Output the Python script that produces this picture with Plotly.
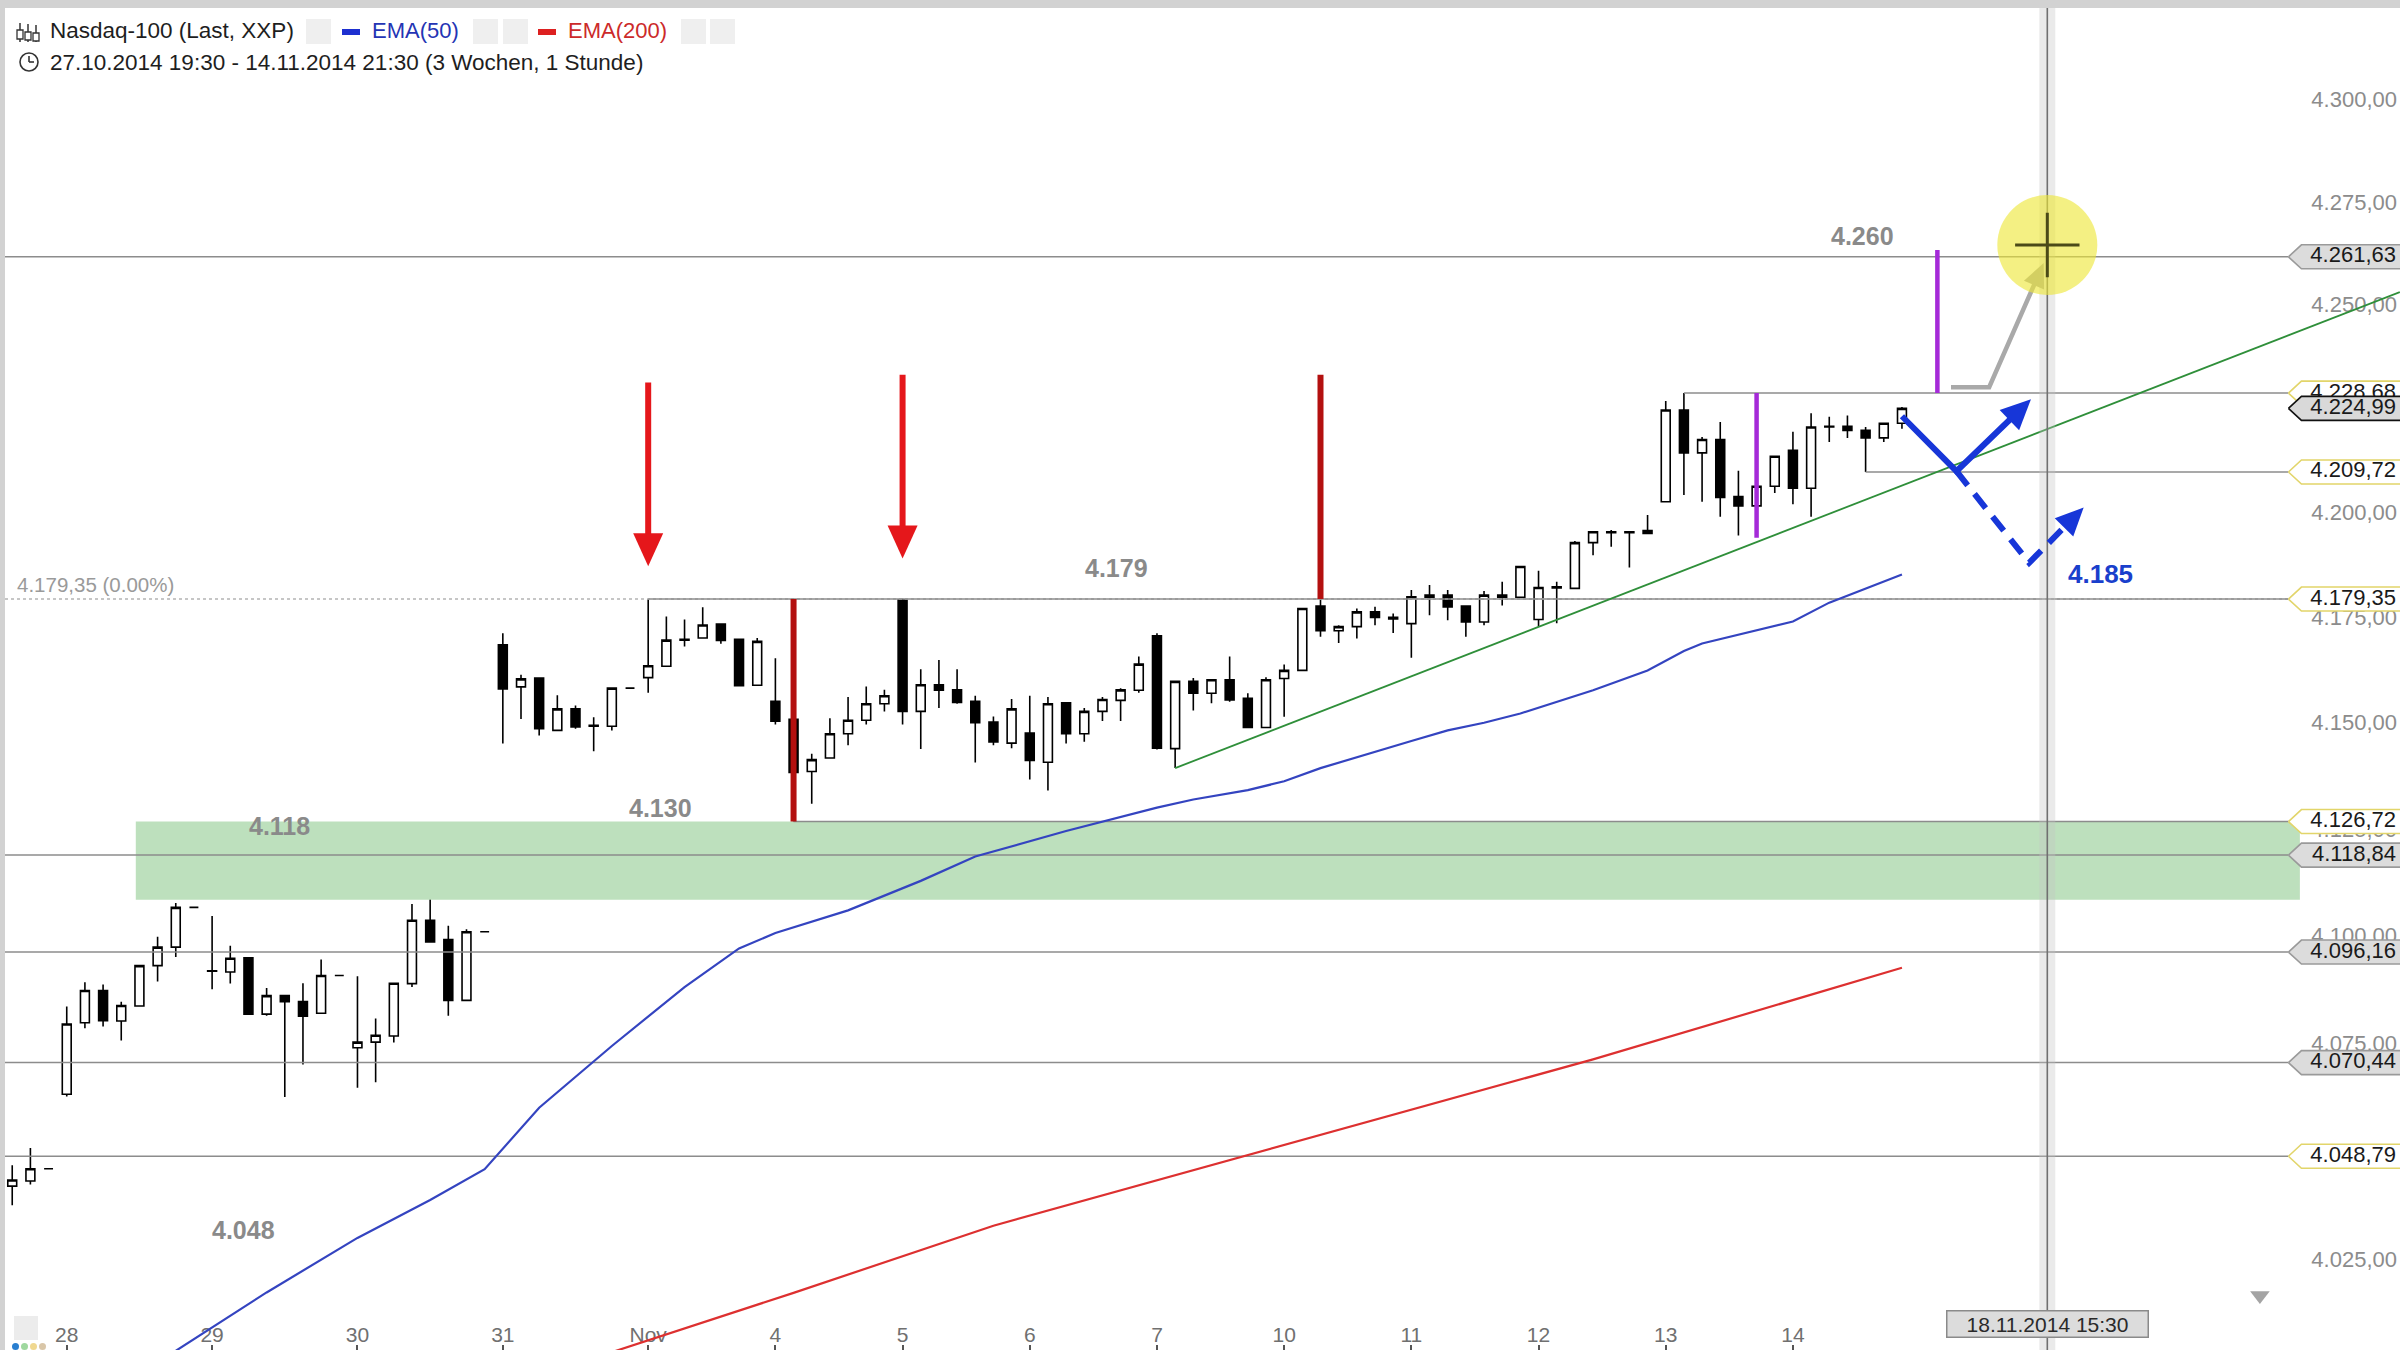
import math
import plotly.graph_objects as go

# ---------------- data ----------------
bar_open = [
    4041.9, 4043.1, 4045.9,
    4063.1, 4079.7, 4087.2, 4080.1, 4083.6, 4093.0, 4097.3, 4106.6,
    4091.7, 4091.5, 4094.8, 4081.7, 4086.0, 4084.6, 4081.9, 4090.7,
    4073.9, 4075.2, 4076.6, 4088.8, 4103.6, 4099.1, 4084.9, 4100.9,
    4168.5, 4158.5, 4160.6, 4148.2, 4153.3, 4149.4, 4149.2, 4158.2,
    4160.7, 4163.4, 4169.6, 4170.1, 4173.4, 4169.8, 4158.9,
    4155.1, 4150.8, 4138.5, 4141.7, 4147.4, 4150.6, 4154.5,
    4179.1, 4152.7, 4159.0, 4157.8, 4155.1, 4150.2, 4145.2,
    4147.6, 4140.7, 4154.7, 4147.4, 4152.7, 4155.3, 4157.7,
    4170.6, 4143.9, 4159.8, 4157.0, 4160.2, 4155.8, 4148.9,
    4160.5, 4162.4, 4177.7, 4171.8, 4172.8, 4176.3, 4175.0,
    4173.5, 4180.3, 4180.3, 4177.7, 4173.9, 4179.8, 4179.8,
    4174.5, 4182.0, 4181.9, 4192.8, 4195.4, 4195.4, 4195.7,
    4202.6, 4224.6, 4214.3, 4217.5, 4203.8, 4201.6, 4206.3,
    4214.9, 4205.8, 4220.5, 4220.7, 4219.7, 4217.9, 4221.4,
]
bar_high = [
    4046.7, 4050.7, 4045.9,
    4083.5, 4089.1, 4088.6, 4084.6, 4093.2, 4099.7, 4107.6, 4106.6,
    4104.6, 4097.6, 4095.0, 4087.8, 4086.2, 4088.9, 4094.4, 4090.7,
    4090.5, 4080.7, 4088.9, 4107.4, 4109.5, 4102.3, 4101.5, 4100.9,
    4171.2, 4161.4, 4160.8, 4156.5, 4154.1, 4151.3, 4158.2, 4158.2,
    4179.35, 4175.2, 4174.5, 4177.4, 4173.6, 4169.8, 4170.1,
    4165.3, 4150.8, 4142.7, 4151.1, 4156.1, 4158.6, 4157.8,
    4179.4, 4162.7, 4164.9, 4162.7, 4156.4, 4151.5, 4155.6,
    4156.4, 4156.1, 4154.9, 4153.5, 4156.1, 4158.2, 4165.7,
    4171.2, 4159.8, 4160.6, 4160.2, 4165.7, 4157.0, 4160.8,
    4163.8, 4177.1, 4179.3, 4173.1, 4177.1, 4177.5, 4175.9,
    4181.5, 4182.7, 4181.5, 4177.7, 4181.3, 4183.5, 4187.1,
    4186.1, 4183.5, 4193.2, 4195.4, 4195.8, 4195.4, 4199.4,
    4226.8, 4228.68, 4218.1, 4221.7, 4210.0, 4208.0, 4213.5,
    4219.4, 4223.8, 4223.0, 4223.3, 4220.5, 4221.4, 4225.3,
]
bar_low = [
    4037.5, 4042.3, 4045.9,
    4062.6, 4078.4, 4078.8, 4075.6, 4083.4, 4089.3, 4095.0, 4106.6,
    4087.5, 4088.8, 4081.5, 4081.3, 4062.5, 4070.0, 4081.7, 4090.7,
    4064.6, 4065.9, 4075.1, 4088.0, 4098.5, 4081.3, 4084.9, 4100.9,
    4145.1, 4150.9, 4147.0, 4148.2, 4148.6, 4143.3, 4148.2, 4158.2,
    4157.1, 4163.4, 4168.1, 4170.1, 4168.7, 4158.8, 4158.9,
    4149.6, 4126.72, 4130.9, 4141.7, 4144.7, 4149.6, 4152.7,
    4149.6, 4143.8, 4153.5, 4154.5, 4140.6, 4144.7, 4144.0,
    4136.6, 4134.0, 4145.1, 4145.5, 4150.4, 4150.4, 4157.1,
    4143.7, 4139.3, 4152.9, 4154.6, 4155.0, 4148.9, 4148.9,
    4151.4, 4162.4, 4170.4, 4168.9, 4170.0, 4173.1, 4171.3,
    4165.4, 4175.5, 4174.3, 4170.4, 4173.1, 4177.8, 4179.8,
    4172.8, 4173.6, 4181.9, 4189.8, 4191.8, 4186.9, 4195.0,
    4202.6, 4204.2, 4202.6, 4199.0, 4194.5, 4196.0, 4204.7,
    4202.0, 4199.0, 4216.9, 4217.9, 4209.72, 4216.9, 4220.1,
]
bar_close = [
    4043.3, 4045.9, 4045.9,
    4079.4, 4087.2, 4080.2, 4083.7, 4093.0, 4097.3, 4106.6, 4106.6,
    4091.8, 4094.7, 4081.7, 4086.0, 4084.6, 4081.2, 4090.7, 4090.7,
    4075.2, 4076.8, 4088.9, 4103.6, 4098.5, 4084.9, 4100.9, 4100.9,
    4158.0, 4160.4, 4148.6, 4153.3, 4149.0, 4149.2, 4158.2, 4158.2,
    4163.5, 4169.6, 4169.8, 4173.2, 4169.5, 4158.8, 4169.3,
    4150.4, 4138.3, 4141.3, 4147.4, 4150.6, 4154.5, 4156.4,
    4152.7, 4159.0, 4157.7, 4154.8, 4150.0, 4145.5, 4153.3,
    4141.1, 4154.5, 4147.4, 4152.7, 4155.5, 4157.8, 4163.9,
    4144.0, 4159.8, 4157.0, 4160.2, 4155.4, 4148.9, 4160.2,
    4162.4, 4177.1, 4171.8, 4172.8, 4176.3, 4175.0, 4174.6,
    4179.9, 4179.8, 4177.5, 4173.9, 4180.3, 4180.3, 4187.1,
    4182.1, 4182.3, 4192.8, 4195.4, 4195.2, 4195.2, 4195.0,
    4224.6, 4214.3, 4217.5, 4203.6, 4201.6, 4206.3, 4213.5,
    4205.8, 4220.5, 4220.7, 4219.7, 4217.9, 4221.4, 4224.99,
]
bar_idx = list(range(len(bar_open)))  # hourly bars, 27.10.2014 19:30 ... 14.11.2014 21:30

day_tick_idx = [3, 11, 19, 27, 35, 42, 49, 56, 63, 70, 77, 84, 91, 98]
day_tick_text = ["28", "29", "30", "31", "Nov", "4", "5", "6", "7", "10", "11", "12", "13", "14"]

price_ticks = [4025, 4050, 4075, 4100, 4125, 4150, 4175, 4200, 4225, 4250, 4275, 4300]

ema50_idx = [8, 14, 19, 23, 26, 29, 33, 37, 40, 42, 46, 50, 53, 58, 63, 65, 68, 70, 72, 74,
             77, 79, 81, 83, 85, 87, 90, 92, 93, 96, 98, 100, 104]
ema50_val = [4001.5, 4017.5, 4030.0, 4038.7, 4045.8, 4060.0, 4074.3, 4088.0, 4097.0, 4100.6,
             4105.9, 4112.8, 4118.5, 4124.5, 4130.0, 4131.9, 4134.1, 4136.2, 4139.3, 4141.9,
             4145.7, 4148.2, 4150.0, 4152.2, 4155.0, 4157.7, 4162.4, 4167.0, 4168.8, 4172.0,
             4174.0, 4178.5, 4185.2]
ema200_idx = [32, 34, 43, 54, 68, 87, 104]
ema200_val = [4002.5, 4005.2, 4017.4, 4032.8, 4049.1, 4071.2, 4092.5]

trend_idx = [64, 131.4]
trend_val = [4139.3, 4253.1]

full_levels = [4261.63, 4118.84, 4096.16, 4070.44, 4048.79]
part_levels = [4228.68, 4209.72, 4179.35, 4126.72]
part_level_start = [92, 102, 35, 43]
baseline_value = 4179.35

zone_idx = [6.8, 125.9]
zone_val = [4108.4, 4126.72]

tag_values = [4261.63, 4228.68, 4224.99, 4209.72, 4179.35, 4126.72, 4118.84, 4096.16, 4070.44, 4048.79]
tag_kinds = ["gray", "yellow", "current", "yellow", "yellow", "yellow", "gray", "gray", "gray", "yellow"]

# hand-drawn markings (bar index, price)
red_arrows = [(35, 4231.2, 4187.2), (49, 4233.1, 4189.0)]
darkred_lines = [(43, 4179.35, 4126.72), (72, 4233.1, 4179.35)]
purple_lines = [(96, 4228.68, 4194.0), (105.95, 4263.3, 4228.68)]
gray_path_idx = [106.7, 108.8, 111.8]
gray_path_val = [4230.1, 4230.1, 4260.1]
blue_solid_idx = [104.0, 107.0, 111.1]
blue_solid_val = [4223.1, 4209.9, 4227.2]
blue_dash_idx = [107.0, 111.0, 114.0]
blue_dash_val = [4209.9, 4188.0, 4201.2]
cursor_idx = 112.0
cursor_val = 4264.5

gray_labels = [("4.260", 101.85, 4266.8), ("4.179", 60.8, 4186.8), ("4.130", 35.7, 4130.0),
               ("4.118", 14.7, 4125.7), ("4.048", 12.7, 4031.9)]
blue_label = ("4.185", 114.9, 4185.4)

# ---------------- geometry helpers ----------------
W, H = 2400, 1350
ML, MT = 5, 8
PW, PH = W - ML, H - MT
X0, X1 = -0.398, 131.41
LOG0, LOG1 = 3.602532, 3.635731
PXB = PW / (X1 - X0)
PXL = PH / (LOG1 - LOG0)
FONT = "Liberation Sans, Arial, sans-serif"
TAG_TIP = 125.27


def shift(x, p, dx, dy):
    return x + dx / PXB, 10 ** (math.log10(p) - dy / PXL)


def fx(px):
    return (px - ML) / PW


def fy(py):
    return 1 - (py - MT) / PH


def head(xt, pt, xf, pf, length, width):
    dx = (xt - xf) * PXB
    dy = -(math.log10(pt) - math.log10(pf)) * PXL
    n = math.hypot(dx, dy)
    ux, uy = dx / n, dy / n
    bx, by = -ux * length, -uy * length
    nx, ny = -uy, ux
    pts = [(0, 0), (bx + nx * width / 2, by + ny * width / 2),
           (bx - nx * width / 2, by - ny * width / 2), (0, 0)]
    xs, ps = [], []
    for a, b in pts:
        x, p = shift(xt, pt, a, b)
        xs.append(x)
        ps.append(p)
    base = shift(xt, pt, bx * 0.6, by * 0.6)
    return xs, ps, base


def de(v):
    s = f"{v:,.2f}"
    return s.replace(",", "X").replace(".", ",").replace("X", ".")


fig = go.Figure()


def line(xs, ys, color, width, dash=None):
    fig.add_trace(go.Scatter(x=xs, y=ys, mode="lines", hoverinfo="skip",
                             line=dict(color=color, width=width, dash=dash)))


def poly(xs, ys, fill, lcolor=None, lwidth=0):
    fig.add_trace(go.Scatter(x=xs, y=ys, mode="lines", fill="toself", fillcolor=fill,
                             hoverinfo="skip",
                             line=dict(color=lcolor or fill, width=lwidth)))


# support zone
poly([zone_idx[0], zone_idx[1], zone_idx[1], zone_idx[0], zone_idx[0]],
     [zone_val[0], zone_val[0], zone_val[1], zone_val[1], zone_val[0]], "#bde0bd")

# horizontal levels
line([X0, TAG_TIP], [baseline_value, baseline_value], "#b4b4b4", 1.5, dash="dot")
for v in full_levels:
    line([X0, TAG_TIP], [v, v], "#8c8c8c", 1.5)
for v, s in zip(part_levels, part_level_start):
    line([s, TAG_TIP], [v, v], "#8c8c8c", 1.5)

# moving averages and trend line
line(ema200_idx, ema200_val, "#dd3030", 2.2)
line(ema50_idx, ema50_val, "#3444c0", 2.2)
line(trend_idx, trend_val, "#2f8f3a", 1.8)

# crosshair
line([cursor_idx, cursor_idx], [3990, 4340], "rgba(195,195,195,0.35)", 16)
line([cursor_idx, cursor_idx], [3990, 4340], "#707070", 1.6)

# candles
fig.add_trace(go.Candlestick(
    x=bar_idx, open=bar_open, high=bar_high, low=bar_low, close=bar_close,
    increasing=dict(line=dict(color="#000000", width=1.6), fillcolor="#ffffff"),
    decreasing=dict(line=dict(color="#000000", width=1.6), fillcolor="#000000"),
    whiskerwidth=0, hoverinfo="skip", showlegend=False))

# vertical markers
for x, a, b in darkred_lines:
    line([x, x], [a, b], "#b3100f", 6)
for x, a, b in purple_lines:
    line([x, x], [a, b], "#a52ad8", 4.5)

# red arrows
for x, top, tip in red_arrows:
    hx, hp, base = head(x, tip, x, top, 33, 30)
    line([x, base[0]], [top, base[1]], "#e5171b", 6)
    poly(hx, hp, "#e5171b")

# gray arrow
hx, hp, base = head(gray_path_idx[-1], gray_path_val[-1], gray_path_idx[-2], gray_path_val[-2], 24, 22)
line(gray_path_idx[:-1] + [base[0]], gray_path_val[:-1] + [base[1]], "#a9a9a9", 4.5)
poly(hx, hp, "#a9a9a9")

# blue arrows
hx, hp, base = head(blue_solid_idx[-1], blue_solid_val[-1], blue_solid_idx[-2], blue_solid_val[-2], 30, 28)
line(blue_solid_idx[:-1] + [base[0]], blue_solid_val[:-1] + [base[1]], "#1736d8", 6)
poly(hx, hp, "#1736d8")
hx, hp, base = head(blue_dash_idx[-1], blue_dash_val[-1], blue_dash_idx[-2], blue_dash_val[-2], 28, 26)
line(blue_dash_idx[:-1] + [base[0]], blue_dash_val[:-1] + [base[1]], "#1736d8", 6, dash="18px,11px")
poly(hx, hp, "#1736d8")

# yellow cursor circle
fig.add_trace(go.Scatter(x=[cursor_idx], y=[cursor_val], mode="markers", hoverinfo="skip",
                         marker=dict(size=100, color="rgba(238,230,55,0.62)", line=dict(width=0))))
fig.add_trace(go.Scatter(x=[cursor_idx], y=[cursor_val], mode="markers", hoverinfo="skip",
                         marker=dict(symbol="cross-thin", size=46, color="#4b4a18",
                                     line=dict(color="#4b4a18", width=3))))

# scroll triangle
fig.add_trace(go.Scatter(x=[123.7], y=[4016.8], mode="markers", hoverinfo="skip",
                         marker=dict(symbol="triangle-down", size=17, color="#a4a4a4")))

# price tags on the right
tag_style = {"gray": ("#dcdcdc", "#9a9a9a"), "yellow": ("#ffffff", "#e2d56a"),
             "current": ("#d9d9d9", "#111111")}
for v, k in zip(tag_values, tag_kinds):
    fill, border = tag_style[k]
    bl = TAG_TIP + 13 / PXB
    r = X1 + 2
    hi = shift(0, v, 0, -12)[1]
    lo = shift(0, v, 0, 12)[1]
    poly([TAG_TIP, bl, r, r, bl, TAG_TIP], [v, hi, hi, lo, lo, v], fill, border, 1.6)
    fig.add_trace(go.Scatter(x=[X1 - 4 / PXB], y=[v], mode="text", text=[de(v)],
                             textposition="middle left", hoverinfo="skip", cliponaxis=False,
                             textfont=dict(family=FONT, size=22, color="#1a1a1a")))

# ---------------- annotations ----------------
ann = []
for t, x, p in gray_labels:
    ann.append(dict(x=x, y=math.log10(p), xref="x", yref="y", text=f"<b>{t}</b>", showarrow=False,
                    font=dict(family=FONT, size=25, color="#8a8a8a")))
ann.append(dict(x=blue_label[1], y=math.log10(blue_label[2]), xref="x", yref="y",
                text=f"<b>{blue_label[0]}</b>", showarrow=False,
                font=dict(family=FONT, size=26, color="#1a3fcc")))
ann.append(dict(x=0.15, y=math.log10(4182.8), xref="x", yref="y", text="4.179,35 (0.00%)",
                showarrow=False, xanchor="left", font=dict(family=FONT, size=20.5, color="#9a9a9a")))
ann.append(dict(x=fx(48), y=fy(31), xref="paper", yref="paper", text="Nasdaq-100 (Last, XXP)",
                showarrow=False, xanchor="left", yanchor="middle",
                font=dict(family=FONT, size=22.5, color="#1e1e1e")))
ann.append(dict(x=fx(48), y=fy(62), xref="paper", yref="paper",
                text="27.10.2014 19:30 - 14.11.2014 21:30 (3 Wochen, 1 Stunde)",
                showarrow=False, xanchor="left", yanchor="middle",
                font=dict(family=FONT, size=22.5, color="#1e1e1e")))
ann.append(dict(x=fx(370), y=fy(31), xref="paper", yref="paper", text="EMA(50)",
                showarrow=False, xanchor="left", yanchor="middle",
                font=dict(family=FONT, size=22, color="#2434b4")))
ann.append(dict(x=fx(566), y=fy(31), xref="paper", yref="paper", text="EMA(200)",
                showarrow=False, xanchor="left", yanchor="middle",
                font=dict(family=FONT, size=22, color="#cc2a2a")))
ann.append(dict(x=cursor_idx, y=fy(1324), xref="x", yref="paper", text="18.11.2014 15:30",
                showarrow=False, xanchor="center", yanchor="middle", width=200, height=25,
                bgcolor="#dcdcdc", bordercolor="#8a8a8a", borderwidth=1.5, borderpad=0,
                font=dict(family=FONT, size=21, color="#2a2a2a")))

# ---------------- decorative header icons ----------------
shapes = []


def rect(x0, y0, x1, y1, color, lcolor=None, lw=0):
    shapes.append(dict(type="rect", xref="paper", yref="paper", x0=fx(x0), x1=fx(x1),
                       y0=fy(y1), y1=fy(y0), fillcolor=color, layer="above",
                       line=dict(width=lw, color=lcolor or color)))


for bx in [(306, 331), (473, 498), (503, 528), (681, 706), (710, 735)]:
    rect(bx[0], 19, bx[1], 44, "#efefef")
rect(342, 29, 360, 35, "#1d2fd0")
rect(538, 29, 556, 35, "#dd2020")
# candle icon
for cx, top, bot, b0, b1 in [(20, 23, 42, 30, 39), (28, 24, 42, 32, 40), (36, 25, 42, 33, 41)]:
    shapes.append(dict(type="line", xref="paper", yref="paper", x0=fx(cx), x1=fx(cx),
                       y0=fy(top), y1=fy(bot), line=dict(color="#333333", width=1.5), layer="above"))
    rect(cx - 3, b0, cx + 3, b1, "#ffffff", "#333333", 1.3)
# clock icon
shapes.append(dict(type="circle", xref="paper", yref="paper", x0=fx(20), x1=fx(38), y0=fy(71),
                   y1=fy(53), line=dict(color="#333333", width=1.6), layer="above"))
shapes.append(dict(type="line", xref="paper", yref="paper", x0=fx(29), x1=fx(29), y0=fy(62),
                   y1=fy(56), line=dict(color="#333333", width=1.6), layer="above"))
shapes.append(dict(type="line", xref="paper", yref="paper", x0=fx(29), x1=fx(34), y0=fy(62),
                   y1=fy(62), line=dict(color="#333333", width=1.6), layer="above"))
# bottom-left widget
rect(14, 1316, 38, 1340, "#ececec")
for i, c in enumerate(["#2a7fd0", "#9fd89f", "#f0d890", "#d9c6a8"]):
    shapes.append(dict(type="circle", xref="paper", yref="paper", x0=fx(12 + i * 9),
                       x1=fx(19 + i * 9), y0=fy(1350), y1=fy(1343), fillcolor=c,
                       line=dict(width=0), layer="above"))

fig.update_layout(
    width=W, height=H,
    margin=dict(l=ML, r=0, t=MT, b=0),
    paper_bgcolor="#d2d2d2", plot_bgcolor="#ffffff",
    showlegend=False, boxgap=0.3,
    font=dict(family=FONT),
    annotations=ann, shapes=shapes,
    xaxis=dict(range=[X0, X1], showgrid=False, zeroline=False, showline=False,
               rangeslider=dict(visible=False), tickmode="array",
               tickvals=day_tick_idx, ticktext=day_tick_text,
               ticklabelposition="inside", ticks="inside", ticklen=5, tickwidth=1.5,
               tickcolor="#555555", layer="below traces",
               tickfont=dict(family=FONT, size=21, color="#707070"), fixedrange=True),
    yaxis=dict(type="log", range=[LOG0, LOG1], side="right", showgrid=False, zeroline=False,
               showline=False, tickmode="array", tickvals=price_ticks,
               ticktext=[de(v) for v in price_ticks], ticklabelposition="inside",
               ticks="", layer="below traces",
               tickfont=dict(family=FONT, size=22, color="#8c8c8c"), fixedrange=True),
)

fig.write_html("out.html", config={"displayModeBar": False},
               post_script="document.body.style.margin='0';document.body.style.overflow='hidden';")
